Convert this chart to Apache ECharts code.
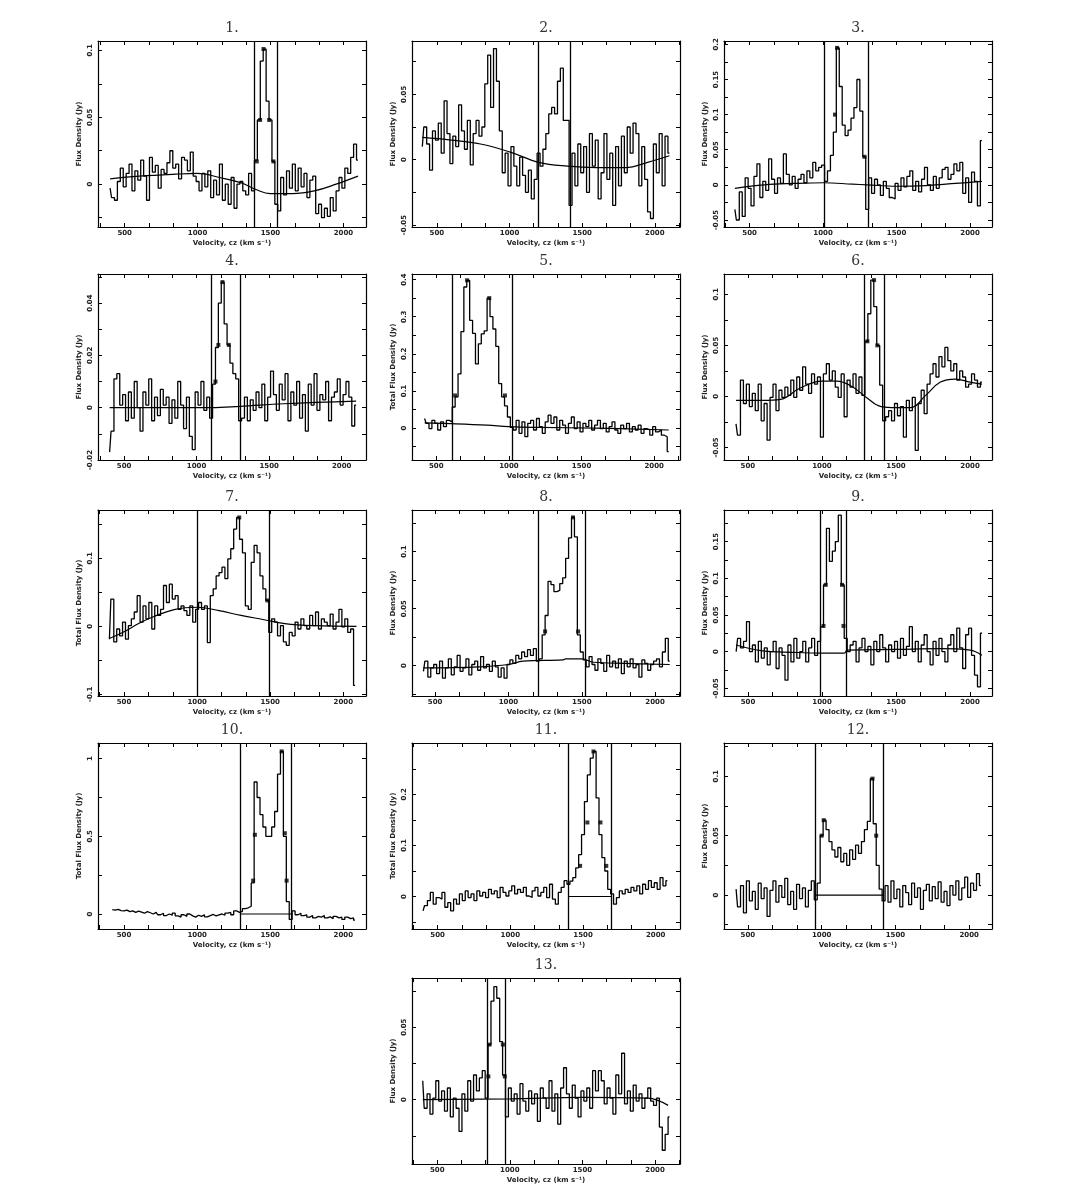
<!DOCTYPE html>
<html><head><meta charset="utf-8">
<script src="https://cdn.jsdelivr.net/npm/echarts@6/dist/echarts.min.js"></script>
<style>html,body{margin:0;padding:0;background:#fff}#c{width:1092px;height:1199px}</style>
</head><body><div id="c"></div>
<script>
// ---------------- DATA ----------------
const panelTitles = ['1.','2.','3.','4.','5.','6.','7.','8.','9.','10.','11.','12.','13.'];
const yAxisNames = ['Flux Density (Jy)','Flux Density (Jy)','Flux Density (Jy)','Flux Density (Jy)',
  'Total Flux Density (Jy)','Flux Density (Jy)','Total Flux Density (Jy)','Flux Density (Jy)',
  'Flux Density (Jy)','Total Flux Density (Jy)','Total Flux Density (Jy)','Flux Density (Jy)','Flux Density (Jy)'];
const xAxisName = 'Velocity, cz (km s\u207B\u00B9)';
const xTickLabels = [500, 1000, 1500, 2000];
const yTickLabels = [
  [0,0.05,0.1],[-0.05,0,0.05],[-0.05,0,0.05,0.1,0.15,0.2],[-0.02,0,0.02,0.04],
  [0,0.1,0.2,0.3,0.4],[-0.05,0,0.05,0.1],[-0.1,0,0.1],[0,0.05,0.1],
  [-0.05,0,0.05,0.1,0.15],[0,0.5,1],[0,0.1,0.2],[0,0.05,0.1],[0,0.05]];
// first channel velocity (km/s) of each spectrum; channels are 20 km/s wide
const channelStart = [400,400,400,400,420,420,400,420,420,420,400,420,400];
const channelWidth = 20;

// flux per channel, mJy
const flux1 = [-3,-10,-12,2,12,-2,8,15,-5,10, 3,18,6,-12,20,9,14,-3,11,8, 16,25,12,15,4,20,18,10,24,6,
  2,-5,8,-2,10,-10,3,-8,15,-12, 0,-15,5,-18,0,2,-5,-8,8,-5, 18,48,92,101,62,48,17,-15,-20,5,
  -8,10,-3,15,-5,12,-2,8,-10,3, 6,-22,-15,-25,-18,-24,-10,-20,-5,5, -3,12,8,20,30,18];
const flux2 = [10,25,12,-8,22,15,28,5,45,20, -3,18,10,42,22,8,30,-4,20,30, 18,25,58,80,40,85,60,22,-10,5,
  -20,10,-5,-20,2,-12,-25,-8,-30,-15, 5,-5,8,20,35,40,35,60,70,30, 30,-35,
  5,-20,12,-10,10,-25,20,-5,15,-30,-10,20,-15,5,-35,10,-20,18,-10,25,5,28,20,-20,10,-15,-40,-45,12,-10,20,-20,18,5];
const flux3 = [-35,-50,-10,-45,10,-5,-30,12,30,-18, 5,-8,37,8,-12,10,2,44,15,0, 12,-5,8,15,3,20,10,32,20,25,
  28,5,20,42,75,195,140,85,70,78, 95,110,150,105,40,-35,10,-12,8,0, -15,5,-5,-18,-20,2,-8,10,-3,12,
  20,-8,5,-10,8,25,0,-8,12,-5, 10,22,25,8,15,30,20,32,-12,10, -25,18,5,-30,63];
const flux4 = [-17,-9,11,13,1,5,-5,6,-4,10, 0,-9,6,1,11,-5,4,-3,7,1, 4,-6,3,-4,10,1,-8,4,-11,-16,
  6,1,10,-1,4,-4, 9,23,40,48,32,24,17,13,11,-5, -4,4,-5,3,-1,6,0,9,-5,4, 14,5,-1,9,3,13,-5,6,1,10,
  -4,5,-9,9,1,13,-1,5,3,10, -5,4,6,11,1,5,10,4,-7,1];
const flux5 = [26,13,-1,21,13,-5,17,4,21,17, 57,84,146,260,380,398,290,255,173,227, 254,262,350,300,267,220,120,84,60,30,
  2, -5,21,-14,17,-23,13,21,-5,26,4, -14,17,35,13,30,-5,21,8,-14,13, 30,-1,17,-10,13,4,21,-5,8,21,
  -1,13,-10,4,17,-5,-14,8,-1,13, -10,4,-5,8,-14,-1,-5,-19,4,-10, -5,-19,-23,-63];
const flux6 = [-27,-38,16,-7,12,-10,3,-14,12,-24, -7,-43,-1,12,-14,6,-1,9,1,16, -1,19,6,29,12,3,22,12,19,-40,
  22,32,16,25,9,-1,22,-20,16,9, 22,3,19,1, 54,81,114,88,50,11,-24, -20,-14,-24,-7,-19,-10,-40,-4,-14,-1,
  -53,-7,6,-17,12,22,32,19,39,29, 48,35,25,32,16,25,19,9,12,22,16,9,14];
const flux7 = [-19,40,-23,-4,-14,6,-19,1,11,21, 45,6,30,11,35,-4,30,16,25,60, 35,62,40,45,25,30,23,16,30,6,
  25,35,25,30,-24,45,55,74,79,87, 70,99,114,143,160,128,108,30,25,94, 119,108,74,55,38,-9,11,6,-14,1,
  -23,-28,-9,-14,6,-4,11,1,-4,16, 1,21,-4,11,6,1,18,-4,6,25, -1,11,-9,-4,-87];
const flux8 = [-5,4,-10,-2,1,-7,4,-11,-2,6, -8,-1,9,-5,-2,6,-8,1,4,-4, 8,-2,1,-5,4,-1,-10,-2,-11,1,
  5,2,9,6,12,8,14,9,15,4, 6,27,44,74,71,65,66,72,77,94,112,130,113,27,12,5,
  -1,8,1,-4,6,2,-5,9,-1,4, -2,6,-7,4,-1,6,-2,1,-10,5, 2,-4,1,4,6,-1,12,24,4];
const flux9 = [0,18,5,14,41,0,9,-14,14,-9, 5,-18,0,14,-23,5,-5,-39,9,-14, 18,-9,0,14,-14,5,18,-5,14,
  34,91,168,123,137,150,186,91,18,0, 9,14,-14,5,18,0,7,-18,14,0, 23,5,-14,9,0,14,-9,18,-5,7,
  34,0,14,-14,9,23,0,-18,14,-5, 18,0,-14,9,23,0,32,5,-23,23, 32,-5,-32,-48,25];
const flux10 = [28,25,30,22,20,25,15,20,10,18, 12,5,15,8,0,10,-5,5,-10,0, -8,5,-12,-20,-5,-15,0,-12,-20,-8,
  -15,-5,-18,-10,-3,-12,-5,0,-8,5, 10,-5,20,10,
  17,35,40,50,200,850,750,640,560,500,500,560,660,900,1047,500,80,-35,20,
  -5,5,-10,-5,-20,-10,-25,-15,-20,-10,-25,-18,-30,-15,-25,-20,-35,-20,-30,-25,-40];
const flux11 = [-28,-18,-8,8,-15,-2,-5,8,-21,-12, -28,-5,-15,5,-8,11,-2,5,-8,11, 1,8,-2,14,5,11,-2,18,8,1,
  11,21,5,14,8,18,1,-2,11,18, 1,8,18,-2,24,-5,-15,8,18,31,
  24,30,37,56,82,121,186,238,271,284,193,121,76,50,14,5,
  -15,-2,11,5,14,8,18,11,21,5,24,14,31,18,27,14,37,21,31];
const flux12 = [5,-10,8,-15,12,-5,3,-12,10,-3, 6,-18,4,12,-6,8,-2,14,-8,3, -12,9,-3,6,-10,4,12,-4,
  10,50,63,55,45,38,32,40,28,35,25,38,30,42,35,45,55,62,98,60,25,5,-5,
  8,-6,12,-3,5,-10,8,2,-8,10, -2,6,-12,4,9,-5,7,-3,11,-6, 3,-9,8,0,12,-4,6,15,-2,10, 4,18,8];
const flux13 = [13,-6,4,-10,1,13,-1,6,-8,8,-12,1,-6,-22,4,-8,13,-1,17,6,15,20,1,
  38,68,78,70,40,17,-12,
  8,-1,4,-10,11,-1,-8,6,-3,4, -15,8,1,-6,13,-8,4,-17,8,22, 4,-6,10,1,-12,6,-1,8,-6,20,
  6,20,13,-3,8,1,-10,17,4,32, -3,6,-8,10,-1,4,-6,1,8,-1, -4,1,-19,-35,-24,-12];

// fitted baselines (velocity km/s, flux mJy)
const baseVel1 = [400,600,850,1000,1150,1300,1400,1500,1650,1800,1950,2100];
const baseFlux1 = [4,6,7.5,8,5,1,-4,-7,-7,-5,0,6];
const baseVel2 = [400,600,800,1000,1200,1400,1600,1800,1950,2100];
const baseFlux2 = [17,15,12,6,-2,-5,-6,-6,-2,3];
const baseVel3 = [400,600,800,1000,1200,1300,1500,1700,1900,2080];
const baseFlux3 = [-5,0,2,3,1,0,-2,-1,2,5];
const baseVel4 = [400,1100,1300,1600,2100];
const baseFlux4 = [0,0,0.5,1.5,2.5];
const baseVel5 = [420,600,850,1000,1200,1600,2100];
const baseFlux5 = [14,12,8,4,2,0,-5];
const baseVel6 = [420,600,720,850,1000,1100,1200,1300,1400,1500,1600,1700,1800,1900,2000,2080];
const baseFlux6 = [-4,-4,-3,8,15,15,10,-1,-10,-11,-11,1,14,17,14,12];
const baseVel7 = [400,500,600,700,850,1000,1150,1300,1450,1600,1800,2090];
const baseFlux7 = [-18,-8,4,14,25,28,23,16,10,4,1,0];
const baseVel8 = [420,800,1000,1100,1370,1390,1500,1580,1800,2100];
const baseFlux8 = [-2,-1,1,4,5,6,6,3,2,1];
const baseVel9 = [420,600,800,1000,1150,1170,1500,1800,2000,2080];
const baseFlux9 = [9,1,-1,-2,-2,2,3,4,2,-5];
const baseVel10 = [1292,1646];
const baseFlux10 = [0,0];
const baseVel11 = [1398,1695];
const baseFlux11 = [0,0];
const baseVel12 = [959,1419];
const baseFlux12 = [0,0];
const baseVel13 = [400,1000,1500,1950,2090];
const baseFlux13 = [0,0.5,1.5,1,-4];

// line windows (km/s)
const lineWindows = [[1389,1545],[1201,1418],[1009,1308],[1103,1298],[612,1023],[1285,1419],[1000,1493],
  [1206,1525],[985,1165],[1292,1646],[1398,1695],[959,1419],[841,967]];

// width/peak markers (velocity km/s, flux mJy)
const markVel1 = [1406,1429,1452,1491,1520];  const markFlux1 = [17,48,101,48,17];
const markVel2 = [];                          const markFlux2 = [];
const markVel3 = [1081,1095,1282];            const markFlux3 = [100,195,40];
const markVel4 = [1130,1150,1178,1222];       const markFlux4 = [10,24,48,24];
const markVel5 = [630,712,865,973];           const markFlux5 = [88,398,350,88];
const markVel6 = [1307,1352,1374];            const markFlux6 = [54,114,50];
const markVel7 = [1288,1480];                 const markFlux7 = [160,38];
const markVel8 = [1250,1440,1475];            const markFlux8 = [30,130,30];
const markVel9 = [1010,1025,1135,1145];       const markFlux9 = [35,91,91,35];
const markVel10 = [1383,1395,1578,1600,1612]; const markFlux10 = [215,510,1047,520,215];
const markVel11 = [1480,1530,1572,1620,1660]; const markFlux11 = [60,145,284,145,60];
const markVel12 = [1000,1014,1345,1370];      const markFlux12 = [50,63,98,50];
const markVel13 = [852,860,952,965];          const markFlux13 = [16,38,38,16];

// ---------------- LAYOUT ----------------
const colLeft = [98, 412, 724], rowTop = [41, 274, 510, 743, 978], W = 268, H = 186;
const panelCell = [[0,0],[1,0],[2,0],[0,1],[1,1],[2,1],[0,2],[1,2],[2,2],[0,3],[1,3],[2,3],[1,4]];
const xRange = [[317,2155],[329,2173],[326,2149],[320,2168],[333,2178],[339,2148],[322,2155],
  [342,2170],[338,2148],[322,2155],[324,2167],[338,2155],[326,2172]];
const yRange = [[-0.032,0.107],[-0.0515,0.0908],[-0.060,0.2048],[-0.02,0.0511],[-0.0857,0.415],
  [-0.0624,0.120],[-0.1025,0.171],[-0.0266,0.1365],[-0.0605,0.193],[-0.0966,1.101],
  [-0.0636,0.3006],[-0.0286,0.128],[-0.0445,0.084]];

const fluxes = [flux1,flux2,flux3,flux4,flux5,flux6,flux7,flux8,flux9,flux10,flux11,flux12,flux13];
const baseVels = [baseVel1,baseVel2,baseVel3,baseVel4,baseVel5,baseVel6,baseVel7,baseVel8,baseVel9,baseVel10,baseVel11,baseVel12,baseVel13];
const baseFluxes = [baseFlux1,baseFlux2,baseFlux3,baseFlux4,baseFlux5,baseFlux6,baseFlux7,baseFlux8,baseFlux9,baseFlux10,baseFlux11,baseFlux12,baseFlux13];
const markVels = [markVel1,markVel2,markVel3,markVel4,markVel5,markVel6,markVel7,markVel8,markVel9,markVel10,markVel11,markVel12,markVel13];
const markFluxes = [markFlux1,markFlux2,markFlux3,markFlux4,markFlux5,markFlux6,markFlux7,markFlux8,markFlux9,markFlux10,markFlux11,markFlux12,markFlux13];

const FONT = 'DejaVu Sans';
const lbl = {fontSize: 7, fontWeight: 'bold', color: '#222', fontFamily: FONT};
const grid = [], xAxis = [], yAxis = [], series = [], graphic = [];

panelTitles.forEach((t, k) => {
  const [c, r] = panelCell[k];
  const left = colLeft[c], top = rowTop[r];
  grid.push({left: left, top: top, width: W, height: H, containLabel: false});
  const [x0, x1] = xRange[k], [y0, y1] = yRange[k];
  const xs = 500 / 3, xt = [];
  for (let j = Math.ceil((x0 - 500) / xs); 500 + j * xs <= x1; j++) xt.push(500 + j * xs);
  const yl = yTickLabels[k];
  const ys = (yl[1] - yl[0]) / 2, yt = [];
  for (let j = Math.ceil(y0 / ys - 1e-9); j * ys <= y1 + 1e-9; j++) yt.push(+(j * ys).toFixed(4));
  const aLine = {show: true, onZero: false, lineStyle: {color: '#000', width: 1.2}};
  const tick = (vals) => ({show: true, inside: true, length: 4, customValues: vals, lineStyle: {color: '#000', width: 1}});
  xAxis.push({type: 'value', gridIndex: k, min: x0, max: x1, position: 'bottom',
    axisLine: aLine, axisTick: tick(xt), splitLine: {show: false},
    axisLabel: Object.assign({show: true, customValues: xTickLabels, margin: 3, formatter: v => String(Math.round(v))}, lbl),
    name: xAxisName, nameLocation: 'middle', nameGap: 13, nameTextStyle: lbl});
  xAxis.push({type: 'value', gridIndex: k, min: x0, max: x1, position: 'top',
    axisLine: aLine, axisTick: tick(xt), splitLine: {show: false}, axisLabel: {show: false}});
  yAxis.push({type: 'value', gridIndex: k, min: y0, max: y1, position: 'left',
    axisLine: aLine, axisTick: tick(yt), splitLine: {show: false},
    axisLabel: Object.assign({show: true, customValues: yl, rotate: 90, margin: 4, formatter: v => String(+v.toFixed(3))}, lbl),
    name: yAxisNames[k], nameLocation: 'middle', nameGap: 15, nameRotate: 90, nameTextStyle: lbl});
  yAxis.push({type: 'value', gridIndex: k, min: y0, max: y1, position: 'right',
    axisLine: aLine, axisTick: tick(yt), splitLine: {show: false}, axisLabel: {show: false}});

  const spec = fluxes[k].map((f, i) => [channelStart[k] + i * channelWidth, f / 1000]);
  series.push({type: 'line', xAxisIndex: 2 * k, yAxisIndex: 2 * k, data: spec, step: 'middle',
    showSymbol: false, symbol: 'none', lineStyle: {color: '#000', width: 1.3}, silent: true,
    markLine: {silent: true, symbol: 'none', label: {show: false},
      lineStyle: {color: '#000', width: 1.3, type: 'solid'},
      data: [{xAxis: lineWindows[k][0]}, {xAxis: lineWindows[k][1]}]}});
  series.push({type: 'line', xAxisIndex: 2 * k, yAxisIndex: 2 * k, smooth: 0.4, symbol: 'none',
    data: baseVels[k].map((v, i) => [v, baseFluxes[k][i] / 1000]), lineStyle: {color: '#000', width: 1.2}, silent: true});
  series.push({type: 'scatter', xAxisIndex: 2 * k, yAxisIndex: 2 * k, symbol: 'rect', symbolSize: 4,
    itemStyle: {color: '#000'}, data: markVels[k].map((v, i) => [v, markFluxes[k][i] / 1000]), silent: true});

  graphic.push({type: 'text', x: left + W / 2, y: top - 13,
    style: {text: t, textAlign: 'center', textVerticalAlign: 'middle', font: '14px "DejaVu Serif"', fill: '#333'}});
});

const chart = echarts.init(document.getElementById('c'));
chart.setOption({animation: false, backgroundColor: '#fff', grid, xAxis, yAxis, series, graphic});
</script></body></html>
